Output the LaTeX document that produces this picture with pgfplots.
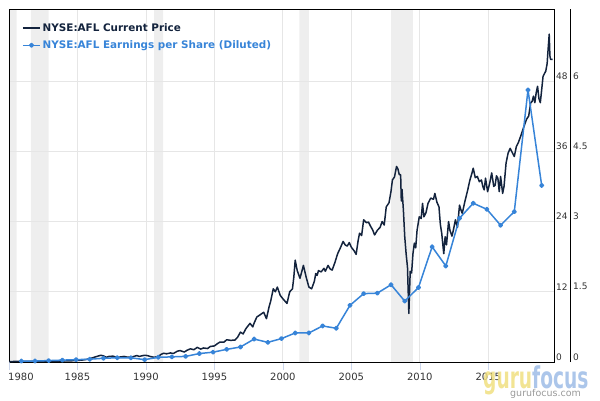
\documentclass[border=0pt]{standalone}
\usepackage{pgfplots}
\pgfplotsset{compat=1.18}
\usepackage{fontspec}
\setmainfont{DejaVu Sans}
\usepackage{graphicx}
\definecolor{pricec}{HTML}{13233D}
\definecolor{epsc}{HTML}{3784D8}
\definecolor{gridc}{HTML}{E6E6E6}
\definecolor{bandc}{HTML}{EEEEEE}
\definecolor{tickc}{HTML}{CCD6EB}
\definecolor{labc}{HTML}{333333}
\definecolor{guruy}{HTML}{F0DF80}
\definecolor{gurub}{HTML}{9DBCE6}

\pgfplotstableread{
year price
1980.0 0.08
1980.5 0.09
1981.0 0.10
1981.5 0.10
1982.0 0.11
1982.5 0.11
1983.0 0.13
1983.5 0.15
1984.0 0.17
1984.5 0.20
1985.0 0.26
1985.3 0.32
1985.6 0.42
1985.9 0.55
1986.2 0.80
1986.4 0.94
1986.7 1.15
1986.9 1.05
1987.1 0.80
1987.3 0.95
1987.6 1.00
1987.9 0.75
1988.1 0.85
1988.4 0.95
1988.6 0.85
1988.9 0.80
1989.1 0.95
1989.35 1.10
1989.5 0.95
1989.7 1.05
1989.9 1.15
1990.1 1.10
1990.3 0.95
1990.6 0.80
1990.9 0.94
1991.1 1.30
1991.3 1.50
1991.5 1.40
1991.8 1.55
1992.0 1.45
1992.3 1.85
1992.5 1.95
1992.8 1.70
1993.0 2.00
1993.25 2.25
1993.5 2.10
1993.75 2.50
1994.0 2.20
1994.2 2.40
1994.5 2.30
1994.7 2.65
1995.0 2.75
1995.2 3.10
1995.4 3.40
1995.7 3.40
1995.9 3.80
1996.2 3.70
1996.5 3.75
1996.7 4.25
1996.9 5.10
1997.1 4.80
1997.3 5.70
1997.6 6.60
1997.8 6.00
1997.9 6.65
1998.1 7.70
1998.3 8.00
1998.6 8.50
1998.8 7.40
1999.0 9.50
1999.1 10.3
1999.3 12.5
1999.45 12.0
1999.6 12.8
1999.8 11.4
2000.0 10.8
2000.3 10.0
2000.5 12.0
2000.7 12.5
2000.8 14.5
2000.9 17.4
2001.05 15.6
2001.25 14.3
2001.5 16.5
2001.7 14.5
2001.9 12.8
2002.1 12.5
2002.3 13.8
2002.4 15.1
2002.5 14.8
2002.6 15.6
2002.8 15.4
2003.0 16.0
2003.1 15.5
2003.3 16.5
2003.45 15.9
2003.6 15.7
2003.8 17.0
2004.0 18.5
2004.2 19.5
2004.4 20.6
2004.55 20.0
2004.7 19.8
2004.85 20.4
2005.0 19.6
2005.2 19.0
2005.35 18.4
2005.5 20.8
2005.6 22.0
2005.75 21.6
2005.9 24.3
2006.1 23.8
2006.25 23.9
2006.4 23.2
2006.55 22.6
2006.7 21.7
2006.9 22.5
2007.1 23.0
2007.25 24.0
2007.4 23.4
2007.55 26.5
2007.75 27.2
2007.9 29.2
2008.0 31.1
2008.15 31.6
2008.3 33.4
2008.4 33.0
2008.5 32.0
2008.6 32.0
2008.65 27.5
2008.7 29.5
2008.8 26.0
2008.9 21.4
2009.0 18.5
2009.1 16.2
2009.2 8.3
2009.25 12.0
2009.3 15.5
2009.4 15.2
2009.5 18.5
2009.6 20.3
2009.7 19.5
2009.8 22.5
2009.96 24.8
2010.1 24.5
2010.2 27.1
2010.3 24.8
2010.45 25.5
2010.6 27.1
2010.8 28.0
2011.0 27.8
2011.1 28.8
2011.25 27.3
2011.4 26.5
2011.5 23.5
2011.6 22.0
2011.75 18.5
2011.85 21.4
2011.95 20.0
2012.1 24.0
2012.2 22.5
2012.35 21.5
2012.45 22.5
2012.6 24.3
2012.75 23.0
2012.9 26.8
2013.0 26.0
2013.1 25.4
2013.3 27.5
2013.5 29.4
2013.65 31.0
2013.8 32.2
2013.9 33.1
2014.05 31.5
2014.2 31.7
2014.35 30.8
2014.5 31.1
2014.6 30.0
2014.7 29.4
2014.8 31.4
2014.95 29.1
2015.1 30.5
2015.25 32.3
2015.4 30.0
2015.5 30.2
2015.6 31.8
2015.7 31.4
2015.8 29.1
2015.9 31.7
2016.05 28.8
2016.15 30.0
2016.3 34.0
2016.45 35.7
2016.6 36.5
2016.75 35.8
2016.9 35.1
2017.05 36.8
2017.2 37.5
2017.4 38.8
2017.6 40.2
2017.8 41.5
2017.95 42.0
2018.1 44.3
2018.2 44.5
2018.3 45.4
2018.4 44.3
2018.5 46.0
2018.6 47.1
2018.7 45.0
2018.8 44.3
2018.9 46.5
2019.0 48.8
2019.2 49.7
2019.3 51.0
2019.35 52.8
2019.45 56.0
2019.5 52.3
2019.55 51.7
2019.7 51.7
}\pricetable

\pgfplotstableread{
year eps
1980.9 0.02
1981.9 0.02
1982.9 0.03
1983.9 0.04
1984.9 0.05
1985.9 0.06
1986.9 0.08
1987.9 0.09
1988.9 0.09
1989.9 0.05
1990.9 0.10
1991.9 0.11
1992.9 0.12
1993.9 0.18
1994.9 0.21
1995.9 0.27
1996.9 0.32
1997.9 0.49
1998.9 0.42
1999.9 0.50
2000.9 0.62
2001.9 0.62
2002.9 0.77
2003.9 0.72
2004.9 1.21
2005.9 1.46
2006.9 1.47
2007.9 1.65
2008.9 1.30
2009.9 1.59
2010.9 2.46
2011.9 2.05
2012.9 3.07
2013.9 3.39
2014.9 3.26
2015.9 2.92
2016.9 3.21
2017.9 5.81
2018.9 3.77
}\epstable

\pgfplotsset{base/.style={
  at={(9pt,38pt)}, anchor=south west,
  width=545pt, height=353pt, scale only axis,
  xmin=1980, xmax=2019.8}}

\begin{document}
\begin{tikzpicture}
\useasboundingbox (0,0) rectangle (600pt,400pt);
% recession bands (drawn first, below grid and axis lines)
\begin{axis}[base, ymin=0, ymax=60.3, hide axis]
\addplot[draw=none, fill=bandc] coordinates {(1980.0,0) (1980.0,60.3) (1980.55,60.3) (1980.55,0)} \closedcycle;
\addplot[draw=none, fill=bandc] coordinates {(1981.6,0) (1981.6,60.3) (1982.9,60.3) (1982.9,0)} \closedcycle;
\addplot[draw=none, fill=bandc] coordinates {(1990.6,0) (1990.6,60.3) (1991.25,60.3) (1991.25,0)} \closedcycle;
\addplot[draw=none, fill=bandc] coordinates {(2001.2,0) (2001.2,60.3) (2001.9,60.3) (2001.9,0)} \closedcycle;
\addplot[draw=none, fill=bandc] coordinates {(2007.9,0) (2007.9,60.3) (2009.5,60.3) (2009.5,0)} \closedcycle;
\end{axis}
\begin{axis}[
  base, ymin=0, ymax=60.3,
  axis line style={black, line width=0.8pt},
  xtick={1985,1990,1995,2000,2005,2010,2015},
  extra x ticks={1980},
  extra x tick style={grid=none, xticklabel style={anchor=north west, xshift=-1pt}},
  xtick pos=bottom, tick align=outside,
  major tick length=8pt,
  xtick style={draw=tickc, line width=0.6pt},
  ytick={0,12,24,36,48},
  ytick style={draw=none},
  yticklabel pos=right,
  xmajorgrids, ymajorgrids,
  grid style={draw=gridc, line width=0.8pt},
  /pgf/number format/1000 sep={},
  /pgf/number format/assume math mode=true,
  xticklabel style={font=\fontsize{10}{12}\selectfont, text=labc, inner sep=0pt, yshift=-3pt},
  yticklabel style={font=\fontsize{9}{11}\selectfont, text=labc, inner sep=0pt, anchor=west, xshift=-6pt, yshift=5pt},
]
\addplot[color=pricec, line width=1.5pt, line join=round, no marks, forget plot] table[x=year, y=price] {\pricetable};
\end{axis}
\begin{axis}[
  base, ymin=0, ymax=7.5375,
  hide x axis,
  axis y line*=right,
  every outer y axis line/.append style={xshift=16.5pt, black, line width=0.8pt},
  ytick={0,1.5,3,4.5,6},
  ytick style={draw=none},
  /pgf/number format/assume math mode=true,
  yticklabel style={font=\fontsize{9}{11}\selectfont, text=labc, inner sep=0pt, anchor=west, xshift=19pt, yshift=5pt},
  legend style={at={(0,1)}, anchor=north west, xshift=13pt, yshift=-12pt, draw=none, fill=none,
    font=\fontsize{10.4}{12}\selectfont\bfseries, inner sep=0pt, row sep=4pt,
    /tikz/every even column/.append style={column sep=4pt}},
  legend cell align=left,
  legend image code/.code={\draw[mark repeat=2, mark phase=2, #1] plot coordinates {(0pt,0pt) (8.5pt,0pt) (17pt,0pt)};},
]
\addlegendimage{color=pricec, line width=1.5pt, no marks}
\addlegendentry{\textcolor{pricec}{NYSE:AFL Current Price}}
\addplot[color=epsc, line width=1.5pt, line join=round, mark=*, mark size=1.8pt, mark options={fill=epsc, draw=epsc}] table[x=year, y=eps] {\epstable};
\addlegendentry{\textcolor{epsc}{NYSE:AFL Earnings per Share (Diluted)}}
\end{axis}
% watermark
\node[anchor=base west, inner sep=0pt, font=\fontsize{30}{30}\selectfont\bfseries, opacity=0.85] at (483pt,12pt)
  {\scalebox{0.62}[1]{\textcolor{guruy}{guru}\textcolor{gurub}{focus}}};
\node[anchor=base west, inner sep=0pt, font=\fontsize{9.5}{9.5}\selectfont, text=black!40] at (510pt,4pt) {gurufocus.com};
\end{tikzpicture}
\end{document}
